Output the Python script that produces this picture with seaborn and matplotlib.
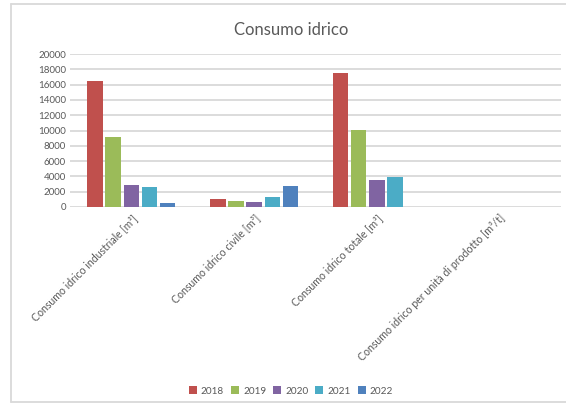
import numpy as np
import pandas as pd
import matplotlib
matplotlib.use("Agg")
import matplotlib.pyplot as plt
import seaborn as sns
from matplotlib.patches import Patch
from matplotlib.lines import Line2D

categories = [
    "Consumo idrico industriale [m³]",
    "Consumo idrico civile [m³]",
    "Consumo idrico totale [m³]",
    "Consumo idrico per unità di prodotto [m³/t]",
]
years = ["2018", "2019", "2020", "2021", "2022"]
values_2018 = [16500, 1050, 17550, 20]
values_2019 = [9200, 790, 10080, 18]
values_2020 = [2880, 660, 3540, 20]
values_2021 = [2620, 1310, 3930, 22]
values_2022 = [520, 2750, 40, 10]
colors = ["#C0504D", "#9BBB59", "#8064A2", "#4BACC6", "#4F81BD"]
yticks = [0, 2000, 4000, 6000, 8000, 10000, 12000, 14000, 16000, 18000, 20000]

series = [values_2018, values_2019, values_2020, values_2021, values_2022]
rows = []
for y, vals in zip(years, series):
    for c, v in zip(categories, vals):
        rows.append({"Categoria": c, "Anno": y, "Valore": v})
df = pd.DataFrame(rows)

sns.set_theme(style="white")
plt.rcParams["font.family"] = ["Lato", "DejaVu Sans"]
grey = "#595959"

fig = plt.figure(figsize=(5.66, 4.03), dpi=100)
ax = fig.add_axes([70 / 566, 1 - 207 / 403, (561 - 70) / 566, (207 - 54) / 403])

sns.barplot(data=df, x="Categoria", y="Valore", hue="Anno", hue_order=years,
            palette=colors, width=0.74, gap=0.15, ax=ax, legend=False,
            saturation=1, linewidth=0)

ax.set_ylim(0, 20000)
ax.set_xlim(-0.5, len(categories) - 0.5)
ax.set_yticks(yticks)
ax.set_yticklabels([str(t) for t in yticks], fontsize=7, color=grey)
ax.set_xticks(range(len(categories)))
ax.set_xticklabels(categories, rotation=45, ha="right", rotation_mode="anchor",
                   fontsize=7.6, color=grey)
ax.tick_params(axis="y", length=0, pad=3)
ax.tick_params(axis="x", length=0, pad=4)
ax.set_xlabel("")
ax.set_ylabel("")
for s in ax.spines.values():
    s.set_visible(False)
ax.yaxis.grid(True, color="#d9d9d9", linewidth=1.3)
ax.set_axisbelow(True)

fig.text(291 / 566, 1 - 30 / 403, "Consumo idrico", ha="center", va="center",
         fontsize=12, color=grey)

handles = [Patch(facecolor=c, edgecolor="none") for c in colors]
fig.legend(handles, years, loc="center", bbox_to_anchor=(291 / 566, 1 - 391 / 403),
           ncol=5, frameon=False, fontsize=7.2, handlelength=0.8, handleheight=0.8,
           handletextpad=0.4, columnspacing=0.7, labelcolor=grey)

# chart border
bc = "#d9d9d9"
fig.add_artist(Line2D([11 / 566, 11 / 566], [1 - 402 / 403, 1 - 4 / 403],
                      transform=fig.transFigure, color=bc, lw=1.3))
fig.add_artist(Line2D([11 / 566, 1.0], [1 - 4 / 403, 1 - 4 / 403],
                      transform=fig.transFigure, color=bc, lw=1.3))
fig.add_artist(Line2D([11 / 566, 1.0], [1 - 402 / 403, 1 - 402 / 403],
                      transform=fig.transFigure, color=bc, lw=1.3))

fig.savefig("out.png", dpi=100)
